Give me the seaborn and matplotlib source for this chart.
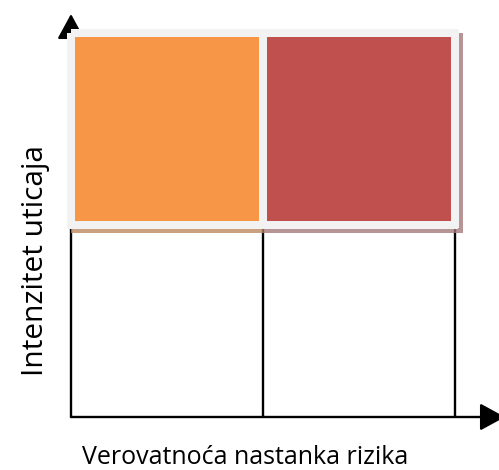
import numpy as np
import matplotlib
matplotlib.use("Agg")
import matplotlib.pyplot as plt
from matplotlib.colors import ListedColormap
from matplotlib.patches import Rectangle
import seaborn as sns

# Risk matrix: probability (columns) x impact (rows); only the high-impact row is coloured
probability = ["low", "high"]
impact = ["high", "low"]
risk_level = [[1, 2]]          # top row levels: medium, high
cell_colors = ["#F79646", "#C0504D"]
shadow_colors = ["#BC8860", "#A5797C"]
x_title = "Verovatnoća nastanka rizika"
y_title = "Intenzitet uticaja"

W, H, DPI = 499, 470, 100
fig = plt.figure(figsize=(W / DPI, H / DPI), dpi=DPI, facecolor="white")
# grid area in pixels: left 71, top 33, each cell 192 px
cell_px = 192
ax = fig.add_axes([71 / W, (H - 33 - 2 * cell_px) / H, 2 * cell_px / W, 2 * cell_px / H])
px = 1.0 / cell_px  # one pixel in data units
pt_px = 72.0 / DPI

sns.heatmap(np.array(risk_level), ax=ax, cmap=ListedColormap(cell_colors),
            cbar=False, linewidths=8 * pt_px, linecolor="#F2F2F2",
            xticklabels=False, yticklabels=False)
mesh = ax.collections[0]
mesh.set_clip_on(False)
mesh.set_zorder(2)

ax.set_xlim(0, len(probability))
ax.set_ylim(len(impact), 0)
ax.set_axis_off()

# drop shadow below/right of the coloured row
for i, c in enumerate(shadow_colors):
    x0 = i
    w = 1 + (8 * px if i == len(shadow_colors) - 1 else 0)
    ax.add_patch(Rectangle((x0, 0), w, 1 + 8 * px, facecolor=c, edgecolor="none",
                           alpha=0.8, zorder=1.5, clip_on=False))

# grid lines of the empty row
lw = 1.7
ax.vlines([1, 2], 1, 2, colors="black", lw=lw, zorder=1, clip_on=False)

# axes with arrows
arrow = dict(arrowstyle="-|>,head_length=0.55,head_width=0.3", color="black",
             lw=lw, mutation_scale=28, shrinkA=0, shrinkB=0)
ax.annotate("", xy=(0, -19 * px), xytext=(0, 2), arrowprops=arrow,
            annotation_clip=False, zorder=1)
ax.annotate("", xy=(2 + 50 * px, 2), xytext=(0, 2), arrowprops=arrow,
            annotation_clip=False, zorder=1)

font = ["Open Sans", "DejaVu Sans"]
fig.text(245 / W, 1 - 458 / H, x_title, ha="center", va="center",
         fontsize=18, family=font, color="black")
fig.text(36 / W, 1 - 261 / H, y_title, ha="center", va="center",
         rotation=90, fontsize=21.5, family=font, color="black")

fig.savefig("out.png", dpi=DPI, facecolor="white")
